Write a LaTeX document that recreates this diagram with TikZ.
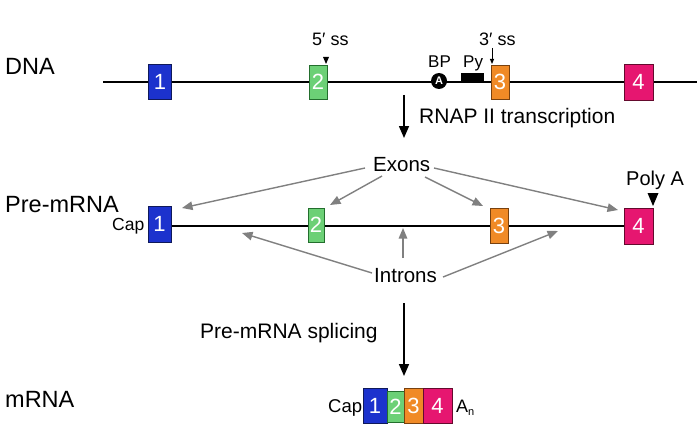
\documentclass[tikz,border=0pt]{standalone}
\usepackage{fontspec}
\setmainfont{Liberation Sans}
\usetikzlibrary{arrows.meta,backgrounds}
\definecolor{cblue}{RGB}{28,50,205}
\definecolor{cblueD}{RGB}{15,25,90}
\definecolor{cgreen}{RGB}{108,208,118}
\definecolor{cgreenD}{RGB}{35,110,45}
\definecolor{corange}{RGB}{240,138,38}
\definecolor{corangeD}{RGB}{120,65,15}
\definecolor{cmag}{RGB}{230,22,112}
\definecolor{cmagD}{RGB}{100,10,45}
\definecolor{cgray}{RGB}{128,128,128}
\newcommand{\fs}[1]{\fontsize{#1}{#1}\selectfont}
\begin{document}
\begin{tikzpicture}[x=1pt,y=-1pt,
  ebox/.style={draw, line width=0.8pt, inner sep=0pt, text=white, font=\fs{22}},
  exb/.style={ebox, fill=cblue, draw=cblueD},
  exg/.style={ebox, fill=cgreen, draw=cgreenD},
  exo/.style={ebox, fill=corange, draw=corangeD},
  exm/.style={ebox, fill=cmag, draw=cmagD},
  lbl/.style={anchor=base west, inner sep=0pt},
  rowlbl/.style={lbl, font=\fs{23.5}},
  strand/.style={line width=1.7pt},
  bigarrow/.style={line width=1.6pt, -{Triangle[length=12pt,width=10pt]}},
  grayarrow/.style={cgray, line width=1.4pt, -{Triangle[length=10.5pt,width=8.5pt]}}
]
\useasboundingbox (0,0) rectangle (700,441);

% ---------------- DNA row
\node[rowlbl] (dnaLbl) at (5,75) {DNA};
\coordinate (dnaL) at (103,82);
\coordinate (dnaR) at (697,82);
\node[exb, minimum width=23pt, minimum height=35pt] (d1) at (160,81.5) {1};
\node[exg, minimum width=18pt, minimum height=34pt] (d2) at (318,82) {2};
\node[exo, minimum width=18pt, minimum height=34pt] (d3) at (500,82) {3};
\node[exm, minimum width=29pt, minimum height=36pt] (d4) at (638.5,82) {4};
\begin{scope}[on background layer]
  \draw[strand] (dnaL) -- (dnaR);
\end{scope}
\node[circle, fill=black, inner sep=0pt, minimum size=16pt, text=white, font=\fs{11}\bfseries] (bp) at (439,81) {A};
\node[fill=black, inner sep=0pt, minimum width=23pt, minimum height=8pt, anchor=south west] (py) at (461,81) {};
\node[lbl, font=\fs{18}] (ss5) at (312,46) {5′ ss};
\node[lbl, font=\fs{18}] (ss3) at (479,46) {3′ ss};
\node[lbl, font=\fs{17}] (bpLbl) at (428,68) {BP};
\node[lbl, font=\fs{17}] (pyLbl) at (463,68) {Py};
\coordinate (tri5) at (326,57);
\fill (tri5) ++(-3,0) -- ++(6,0) -- ++(-3,7) -- cycle;
\coordinate (ar3a) at (492,48);
\coordinate (ar3b) at (492,64);
\draw[line width=0.9pt, -{Triangle[length=5pt,width=4pt]}] (ar3a) -- (ar3b);

% transcription arrow
\coordinate (trA) at (404,95);
\coordinate (trB) at (404,138);
\draw[bigarrow] (trA) -- (trB);
\node[lbl, font=\fs{21}] (trLbl) at (419,123) {RNAP II transcription};

% ---------------- Pre-mRNA row
\node[rowlbl] (preLbl) at (5,212) {Pre-mRNA};
\node[lbl, font=\fs{17.5}] (cap1) at (112,230) {Cap};
\node[exb, minimum width=23pt, minimum height=36pt] (p1) at (159.5,224) {1};
\node[exg, minimum width=16pt, minimum height=34pt] (p2) at (316,225) {2};
\node[exo, minimum width=18pt, minimum height=35pt] (p3) at (499,225.5) {3};
\node[exm, minimum width=29pt, minimum height=36pt] (p4) at (638.5,226) {4};
\begin{scope}[on background layer]
  \draw[strand] (p1.east |- 0,226) -- (p4.west |- 0,226);
\end{scope}
\node[lbl, font=\fs{20}] (polyA) at (626,185) {Poly A};
\coordinate (triA) at (653,193);
\fill (triA) ++(-5.5,0) -- ++(11,0) -- ++(-5.5,13) -- cycle;

\node[lbl, font=\fs{20.5}] (exons) at (373,171) {Exons};
\node[lbl, font=\fs{20.5}] (introns) at (374,282) {Introns};

\coordinate (e1s) at (365,168); \coordinate (e1t) at (182,208);
\coordinate (e2s) at (382,176); \coordinate (e2t) at (330,205);
\coordinate (e3s) at (425,177); \coordinate (e3t) at (483,206);
\coordinate (e4s) at (434,168); \coordinate (e4t) at (618,210);
\draw[grayarrow] (e1s) -- (e1t);
\draw[grayarrow] (e2s) -- (e2t);
\draw[grayarrow] (e3s) -- (e3t);
\draw[grayarrow] (e4s) -- (e4t);

\coordinate (i1s) at (372,273); \coordinate (i1t) at (242,233);
\coordinate (i2s) at (403,258); \coordinate (i2t) at (403,228);
\coordinate (i3s) at (443,277); \coordinate (i3t) at (558,231);
\draw[grayarrow] (i1s) -- (i1t);
\draw[grayarrow] (i2s) -- (i2t);
\draw[grayarrow] (i3s) -- (i3t);

% splicing arrow
\coordinate (spA) at (404,303);
\coordinate (spB) at (404,376);
\draw[bigarrow] (spA) -- (spB);
\node[lbl, font=\fs{21}] (spLbl) at (200,338) {Pre-mRNA splicing};

% ---------------- mRNA row
\node[rowlbl] (mLbl) at (5,407) {mRNA};
\node[lbl, font=\fs{18.5}] (cap2) at (328,412) {Cap};
\node[exb, minimum width=24pt, minimum height=35pt] (m1) at (375,405.5) {1};
\node[exg, minimum width=17pt, minimum height=31pt] (m2) at (395.5,406.5) {2};
\node[exo, minimum width=19pt, minimum height=35pt] (m3) at (413.5,405.5) {3};
\node[exm, minimum width=29pt, minimum height=35pt] (m4) at (437.5,405.5) {4};
\node[lbl, font=\fs{18}] (an) at (456,412) {A\raisebox{-0.35ex}{\fs{11}n}};
\end{tikzpicture}
\end{document}
